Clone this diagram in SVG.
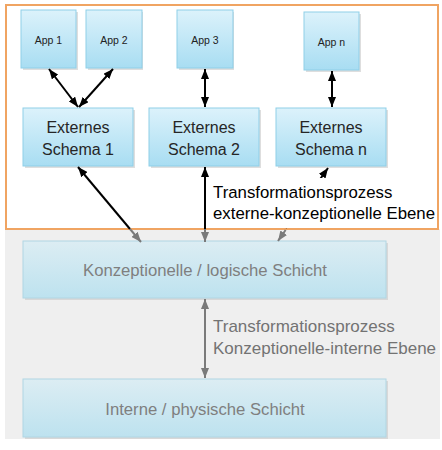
<svg xmlns="http://www.w3.org/2000/svg" width="442" height="450" viewBox="0 0 442 450">
<defs>
<linearGradient id="gBlue" x1="0" y1="0" x2="0" y2="1">
<stop offset="0" stop-color="#dcf2fb"/>
<stop offset="1" stop-color="#a8ddf2"/>
</linearGradient>
<linearGradient id="gPale" x1="0" y1="0" x2="0" y2="1">
<stop offset="0" stop-color="#dcedf3"/>
<stop offset="1" stop-color="#bde2ef"/>
</linearGradient>
<marker id="ab" markerUnits="userSpaceOnUse" markerWidth="10" markerHeight="8" refX="10" refY="4" orient="auto-start-reverse">
<path d="M0,0 L10,4 L0,8 z" fill="#000"/>
</marker>
<marker id="ag" markerUnits="userSpaceOnUse" markerWidth="10" markerHeight="8" refX="10" refY="4" orient="auto-start-reverse">
<path d="M0,0 L10,4 L0,8 z" fill="#7a7a7a"/>
</marker>
<style>
.box{fill:url(#gBlue);stroke:#8fcfe8;stroke-width:1}
.pale{fill:url(#gPale);stroke:#b0d6e3;stroke-width:1}
.sh{fill:#c8c8c8;opacity:0.6}
.app{font-family:"Liberation Sans",Arial,sans-serif;font-size:10.5px;fill:#222;text-anchor:middle}
.ext{font-family:"Liberation Sans",Arial,sans-serif;font-size:16px;fill:#262626;text-anchor:middle}
.lay{font-family:"Liberation Sans",Arial,sans-serif;font-size:16.7px;fill:#7f7f7f;text-anchor:middle}
.tr{font-family:"Liberation Sans",Arial,sans-serif;font-size:16.8px;fill:#000}
.trg{font-family:"Liberation Sans",Arial,sans-serif;font-size:17px;fill:#737373}
.lb{stroke:#000;stroke-width:2;fill:none}
.lg{stroke:#7a7a7a;stroke-width:2;fill:none}
</style>
</defs>
<rect x="0" y="0" width="442" height="450" fill="#fff"/>
<rect id="bg" x="5" y="229" width="435" height="210" fill="#efefef"/>
<rect id="frame" x="6" y="5" width="432" height="224" fill="#fff" stroke="#f0a462" stroke-width="2"/>

<g id="app1"><rect class="sh" x="23" y="12" width="55" height="58"/><rect class="box" x="21" y="10" width="55" height="58"/><text class="app" x="48.5" y="44">App 1</text></g>
<g id="app2"><rect class="sh" x="88" y="12" width="55" height="58"/><rect class="box" x="86" y="10" width="56" height="58"/><text class="app" x="114" y="44">App 2</text></g>
<g id="app3"><rect class="sh" x="179" y="12" width="55" height="58"/><rect class="box" x="177" y="10" width="56" height="58"/><text class="app" x="205" y="44">App 3</text></g>
<g id="appn"><rect class="sh" x="306" y="14" width="55" height="58"/><rect class="box" x="304" y="12" width="55" height="58"/><text class="app" x="331.5" y="46">App n</text></g>

<g id="schema1"><rect class="sh" x="25" y="110" width="110" height="58"/><rect class="box" x="23" y="108" width="110" height="58"/><text class="ext" x="78" y="133">Externes</text><text class="ext" x="78" y="155">Schema 1</text></g>
<g id="schema2"><rect class="sh" x="151" y="110" width="110" height="58"/><rect class="box" x="149" y="108" width="110" height="58"/><text class="ext" x="204" y="133">Externes</text><text class="ext" x="204" y="155">Schema 2</text></g>
<g id="scheman"><rect class="sh" x="278" y="110" width="110" height="58"/><rect class="box" x="276" y="108" width="110" height="58"/><text class="ext" x="331" y="133">Externes</text><text class="ext" x="331" y="155">Schema n</text></g>

<g id="konz"><rect class="sh" x="25" y="243" width="363" height="57"/><rect class="pale" x="23" y="241" width="363" height="57"/><text class="lay" x="205" y="276">Konzeptionelle / logische Schicht</text></g>
<g id="intern"><rect class="sh" x="25" y="381" width="363" height="58"/><rect class="pale" x="23" y="379" width="363" height="58"/><text class="lay" x="205" y="415">Interne / physische Schicht</text></g>

<g id="connectors">
<line class="lb" x1="49" y1="69" x2="78" y2="107" marker-start="url(#ab)" marker-end="url(#ab)"/>
<line class="lb" x1="113" y1="69" x2="79" y2="107" marker-start="url(#ab)" marker-end="url(#ab)"/>
<line class="lb" x1="205" y1="69" x2="205" y2="107" marker-start="url(#ab)" marker-end="url(#ab)"/>
<line class="lb" x1="332" y1="71" x2="332" y2="107" marker-start="url(#ab)" marker-end="url(#ab)"/>
<line class="lb" x1="130" y1="229" x2="78" y2="167" marker-end="url(#ab)"/>
<line class="lg" x1="130" y1="229" x2="141" y2="242" marker-end="url(#ag)"/>
<line class="lb" x1="205" y1="229" x2="205" y2="167" marker-end="url(#ab)"/>
<line class="lg" x1="205" y1="229" x2="205" y2="242" marker-end="url(#ag)"/>
<line class="lb" x1="285.6" y1="228" x2="328" y2="168" marker-end="url(#ab)"/>
<line class="lg" x1="285.6" y1="230" x2="278" y2="241" marker-end="url(#ag)"/>
<line class="lg" x1="205" y1="299" x2="205" y2="378" marker-start="url(#ag)" marker-end="url(#ag)"/>
</g>

<g id="label-ext">
<rect x="210" y="178" width="227" height="50" fill="#fff"/>
<text class="tr" x="213" y="198">Transformationsprozess</text>
<text class="tr" x="213" y="219">externe-konzeptionelle Ebene</text>
</g>
<g id="label-int">
<text class="trg" x="213" y="332">Transformationsprozess</text>
<text class="trg" x="213" y="354">Konzeptionelle-interne Ebene</text>
</g>
</svg>
